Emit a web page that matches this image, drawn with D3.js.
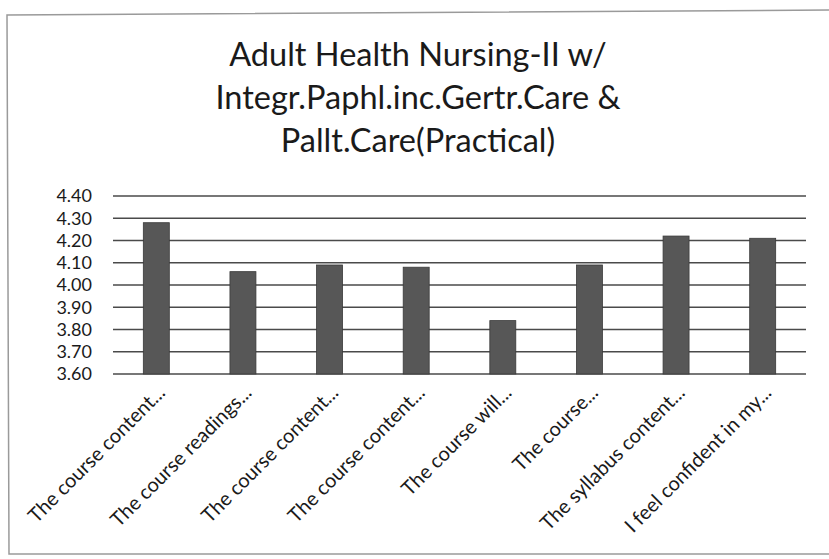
<!DOCTYPE html>
<head>
<meta charset="utf-8">
<style>
body { margin: 0; background: #fff; }
text { font-family: Lato, "Open Sans", sans-serif; fill: #1a1a1a; }
</style>
</head>
<body>
<script src="https://cdn.jsdelivr.net/npm/d3@7"></script>
<script>
var titleLines = ["Adult Health Nursing-II w/", "Integr.Paphl.inc.Gertr.Care &", "Pallt.Care(Practical)"];
var categories = ["The course content...", "The course readings...", "The course content...", "The course content...",
    "The course will...", "The course...", "The syllabus content...", "I feel confident in my..."];
var values = [4.28, 4.06, 4.09, 4.08, 3.84, 4.09, 4.22, 4.21];
var yTicks = [3.60, 3.70, 3.80, 3.90, 4.00, 4.10, 4.20, 4.30, 4.40];

width = 829, height = 559;

svg = d3.select("body").append("svg")
    .attr("width", width)
    .attr("height", height);

// chart frame (scanned, right edge cut off)
svg.append("path")
    .attr("d", "M835,10 L7,15 L9,554 L835,554")
    .attr("fill", "none")
    .attr("stroke", "#9a9a9a")
    .attr("stroke-width", 1.5);

// title
var title = svg.append("text")
    .attr("text-anchor", "middle")
    .style("font-size", "32.5px");
titleLines.forEach(function (t, i) {
    title.append("tspan")
        .attr("x", 418)
        .attr("y", 66 + i * 43)
        .text(t);
});

x = d3.scaleBand()
    .domain(d3.range(categories.length))
    .range([113, 806])
    .paddingInner(0.7)
    .paddingOuter(0.35);

y = d3.scaleLinear()
    .domain([3.6, 4.4])
    .range([374, 196]);

// gridlines
svg.append("g").selectAll("line")
    .data(yTicks)
    .enter().append("line")
    .attr("x1", 113)
    .attr("x2", 806)
    .attr("y1", function (d) { return y(d); })
    .attr("y2", function (d) { return y(d); })
    .attr("stroke", "#4a4a4a")
    .attr("stroke-width", 1.5);

// y axis labels
yAxis = svg.append("g")
    .attr("transform", "translate(100,0)")
    .call(d3.axisLeft(y).tickValues(yTicks).tickFormat(d3.format(".2f")).tickSize(0).tickPadding(8));
yAxis.select(".domain").remove();
yAxis.selectAll("text")
    .style("font-family", "Lato, sans-serif")
    .style("font-size", "18px")
    .attr("fill", "#1a1a1a");

// bars
svg.append("g").selectAll("rect")
    .data(values)
    .enter().append("rect")
    .attr("x", function (d, i) { return x(i); })
    .attr("y", function (d) { return y(d); })
    .attr("width", x.bandwidth())
    .attr("height", function (d) { return y(3.6) - y(d); })
    .attr("fill", "#575757")
    .attr("stroke", "#3a3a3a")
    .attr("stroke-width", 0.8);

// category labels
svg.append("g").selectAll("text")
    .data(categories)
    .enter().append("text")
    .attr("text-anchor", "end")
    .style("font-size", "20px")
    .attr("transform", function (d, i) {
        return "translate(" + (x(i) + x.bandwidth() / 2 + 10) + ",394) rotate(-45)";
    })
    .text(function (d) { return d; });
</script>
</body>
